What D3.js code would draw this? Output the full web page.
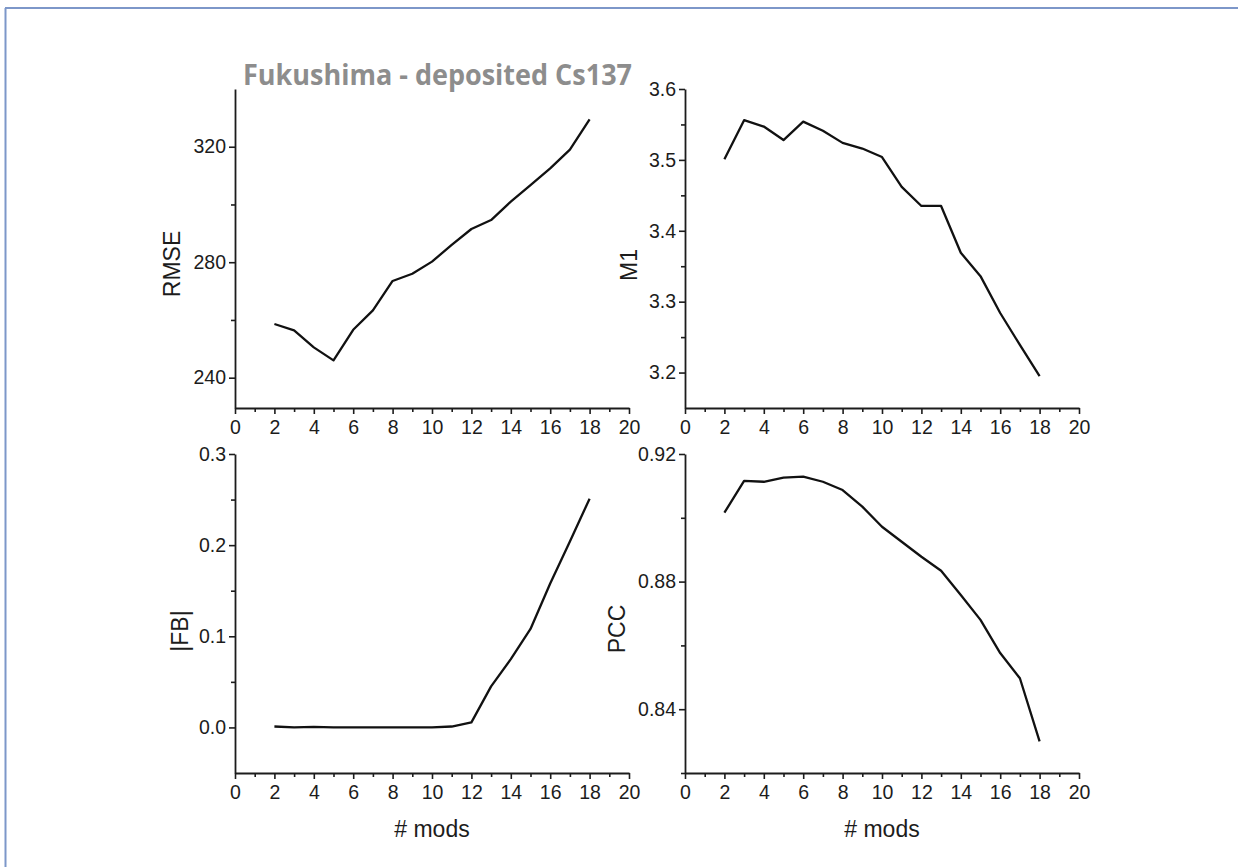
<!DOCTYPE html>
<html>
<head>
<meta charset="utf-8">
<script src="https://cdn.jsdelivr.net/npm/d3@7"></script>
<style>
  html, body { margin: 0; padding: 0; background: #fff; }
  svg text { font-family: "Liberation Sans", Arial, sans-serif; }
</style>
</head>
<body>
<svg id="chart" width="1238" height="867"></svg>
<script>
// Ensemble size (number of models) on the x axis
const mods = [2, 3, 4, 5, 6, 7, 8, 9, 10, 11, 12, 13, 14, 15, 16, 17, 18];

// Metric values per ensemble size
const rmse = [258.6, 256.4, 250.5, 246.0, 256.6, 263.3, 273.5, 276.0, 280.2, 286.0, 291.5, 294.6, 301.0, 306.7, 312.5, 319.0, 329.5];
const m1   = [3.501, 3.556, 3.547, 3.528, 3.554, 3.541, 3.524, 3.516, 3.504, 3.462, 3.435, 3.435, 3.369, 3.336, 3.284, 3.239, 3.195];
const fb   = [0.001, 0.000, 0.0005, 0.000, 0.000, 0.000, 0.000, 0.000, 0.000, 0.001, 0.0055, 0.045, 0.075, 0.108, 0.158, 0.204, 0.251];
const pcc  = [0.9016, 0.9116, 0.9113, 0.9126, 0.9129, 0.9113, 0.9087, 0.9035, 0.8972, 0.8925, 0.8878, 0.8834, 0.8758, 0.8680, 0.8576, 0.8497, 0.8299];

// Tick labels
const xTicks = [0, 2, 4, 6, 8, 10, 12, 14, 16, 18, 20];
const xMinor = [1, 3, 5, 7, 9, 11, 13, 15, 17, 19];
const rmseTicks = [240, 280, 320];
const rmseMinor = [260, 300];
const m1Ticks = [3.2, 3.3, 3.4, 3.5, 3.6];
const m1Minor = [3.25, 3.35, 3.45, 3.55];
const fbTicks = [0.0, 0.1, 0.2, 0.3];
const fbMinor = [0.05, 0.15, 0.25];
const pccTicks = [0.84, 0.88, 0.92];
const pccMinor = [0.82, 0.86, 0.90];

const svg = d3.select("#chart");
const ink = "#1c1c1c";

// page frame (top and left rule)
svg.append("line").attr("x1", 5).attr("y1", 8).attr("x2", 1238).attr("y2", 8)
  .attr("stroke", "#7d97c9").attr("stroke-width", 2);
svg.append("line").attr("x1", 5.5).attr("y1", 8).attr("x2", 5.5).attr("y2", 867)
  .attr("stroke", "#7d97c9").attr("stroke-width", 2);

const panels = [
  { values: rmse, label: "RMSE", domain: [229.5, 340], ticks: rmseTicks, minor: rmseMinor, fmt: d3.format("d"),
    left: 235, right: 629, top: 89, bottom: 408, labX: 180, labY: 264, xTitle: false },
  { values: m1, label: "M1", domain: [3.15, 3.6], ticks: m1Ticks, minor: m1Minor, fmt: d3.format(".1f"),
    left: 685, right: 1079, top: 89, bottom: 408, labX: 637, labY: 265, xTitle: false },
  { values: fb, label: "|FB|", domain: [-0.05, 0.3], ticks: fbTicks, minor: fbMinor, fmt: d3.format(".1f"),
    left: 235, right: 629, top: 454, bottom: 773, labX: 188, labY: 631, xTitle: true },
  { values: pcc, label: "PCC", domain: [0.82, 0.92], ticks: pccTicks, minor: pccMinor, fmt: d3.format(".2f"),
    left: 685, right: 1079, top: 454, bottom: 773, labX: 625, labY: 629, xTitle: true }
];

panels.forEach(p => {
  const x = d3.scaleLinear().domain([0, 20]).range([p.left, p.right]);
  const y = d3.scaleLinear().domain(p.domain).range([p.bottom, p.top]);
  const g = svg.append("g");

  // minor ticks
  const xm = g.append("g").attr("transform", `translate(0,${p.bottom})`)
    .call(d3.axisBottom(x).tickValues(xMinor).tickSize(4).tickFormat(""));
  xm.select(".domain").remove();
  const ym = g.append("g").attr("transform", `translate(${p.left},0)`)
    .call(d3.axisLeft(y).tickValues(p.minor).tickSize(4).tickFormat(""));
  ym.select(".domain").remove();

  // major axes
  const xa = g.append("g").attr("transform", `translate(0,${p.bottom})`)
    .call(d3.axisBottom(x).tickValues(xTicks).tickSize(6).tickSizeOuter(0).tickPadding(6).tickFormat(d3.format("d")));
  const ya = g.append("g").attr("transform", `translate(${p.left},0)`)
    .call(d3.axisLeft(y).tickValues(p.ticks).tickSize(6).tickSizeOuter(0).tickPadding(3).tickFormat(p.fmt));

  [xa, ya, xm, ym].forEach(a => {
    a.selectAll("line").attr("stroke", ink).attr("stroke-width", 1.6);
    a.selectAll(".domain").attr("stroke", ink).attr("stroke-width", 1.8);
    a.selectAll("text").attr("fill", ink).style("font-size", "19.5px")
      .style("font-family", "'Liberation Sans', Arial, sans-serif");
  });

  // y-axis title
  svg.append("text")
    .attr("transform", `translate(${p.labX},${p.labY}) rotate(-90)`)
    .attr("text-anchor", "middle")
    .attr("fill", ink)
    .style("font-size", "23px")
    .text(p.label);

  if (p.xTitle) {
    svg.append("text")
      .attr("x", (p.left + p.right) / 2)
      .attr("y", 837)
      .attr("text-anchor", "middle")
      .attr("fill", ink)
      .style("font-size", "23px")
      .text("# mods");
  }

  // series line
  const line = d3.line().x((d, i) => x(mods[i])).y(d => y(d));
  g.append("path").datum(p.values)
    .attr("d", line)
    .attr("fill", "none")
    .attr("stroke", "#111")
    .attr("stroke-width", 2.3)
    .attr("stroke-linejoin", "round");
});

// figure title
svg.append("text")
  .attr("x", 243).attr("y", 85)
  .attr("textLength", 389).attr("lengthAdjust", "spacingAndGlyphs")
  .attr("fill", "#8d8d8d")
  .style("font-family", "'Open Sans', 'Noto Sans', sans-serif")
  .style("font-weight", "bold")
  .style("font-size", "28px")
  .text("Fukushima - deposited Cs137");
</script>
</body>
</html>
